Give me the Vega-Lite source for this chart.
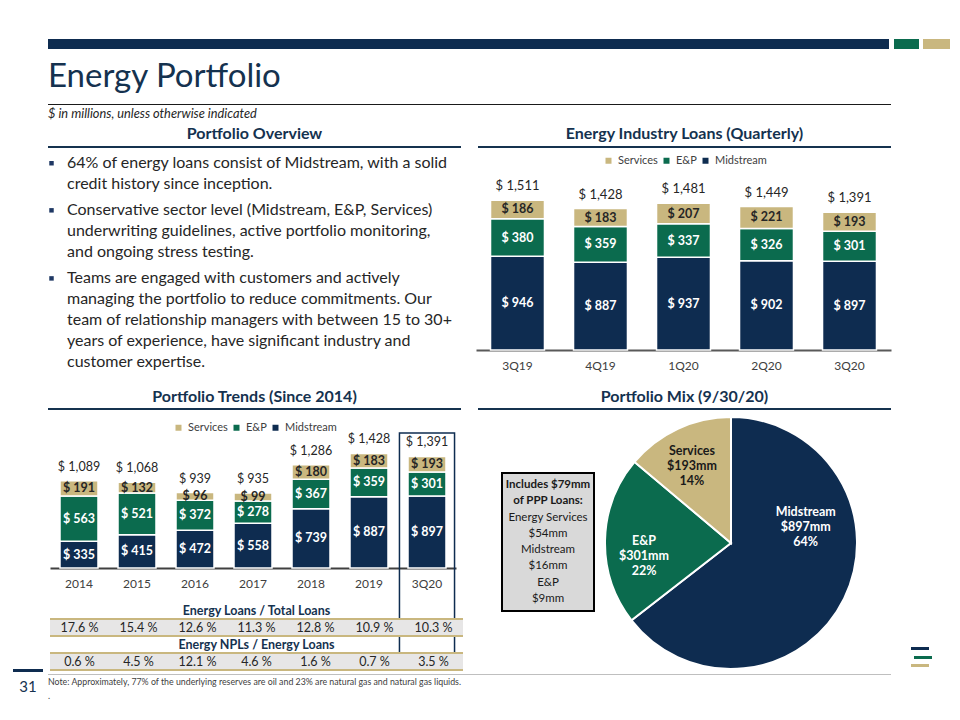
{
"$schema": "https://vega.github.io/schema/vega-lite/v6.json",
"padding": 0,
"background": "white",
"config": {"view": {"stroke": null}, "font": "Lato", "concat": {"spacing": 0}},
"bounds": "full", "spacing": 0,
"resolve": {"scale": {"color": "independent", "theta": "independent"}, "legend": {"color": "independent"}},
"vconcat": [
 {"data": {"values": []}, "mark": "rect", "width": 960, "height": 39},
 {"hconcat": [
   {"data": {"values": []}, "mark": "rect", "width": 48, "height": 10},
   {"data": {"values": []}, "mark": "rect", "width": 841, "height": 10, "view": {"fill": "#0e2c50"}},
   {"data": {"values": []}, "mark": "rect", "width": 5, "height": 10},
   {"data": {"values": []}, "mark": "rect", "width": 25, "height": 10, "view": {"fill": "#0b6b4e"}},
   {"data": {"values": []}, "mark": "rect", "width": 4, "height": 10},
   {"data": {"values": []}, "mark": "rect", "width": 27, "height": 10, "view": {"fill": "#c9b77f"}},
   {"data": {"values": []}, "mark": "rect", "width": 10, "height": 10}
 ], "spacing": 0, "bounds": "flush"},
 {"hconcat": [
   {"data": {"values": []}, "mark": "rect", "width": 48, "height": 55},
   {"width": 912, "height": 55, "data": {"values": [{"t": "Energy Portfolio"}]},
    "mark": {"type": "text", "align": "left", "baseline": "middle", "fontSize": 33, "color": "#15324f"},
    "encoding": {"text": {"field": "t"}, "x": {"datum": 0, "type": "quantitative", "scale": {"domain": [0, 1]}, "axis": null}}}
 ], "spacing": 0, "bounds": "flush"},
 {"hconcat": [
   {"data": {"values": []}, "mark": "rect", "width": 48, "height": 1},
   {"data": {"values": []}, "mark": "rect", "width": 843, "height": 1, "view": {"fill": "#1a1a1a"}},
   {"data": {"values": []}, "mark": "rect", "width": 69, "height": 1}
 ], "spacing": 0, "bounds": "flush"},
 {"hconcat": [
   {"data": {"values": []}, "mark": "rect", "width": 48, "height": 17},
   {"width": 912, "height": 17, "data": {"values": [{"t": "$ in millions, unless otherwise indicated"}]},
    "mark": {"type": "text", "align": "left", "baseline": "middle", "fontSize": 12.8, "fontStyle": "italic", "color": "#262626"},
    "encoding": {"text": {"field": "t"}, "x": {"datum": 0, "type": "quantitative", "scale": {"domain": [0, 1]}, "axis": null}}}
 ], "spacing": 0, "bounds": "flush"},
 {"hconcat": [
   {"data": {"values": []}, "mark": "rect", "width": 48, "height": 24},
   {"width": 413, "height": 24, "data": {"values": [{"t": "Portfolio Overview"}]},
    "mark": {"type": "text", "baseline": "middle", "fontSize": 16, "fontWeight": "bold", "color": "#15324f"},
    "encoding": {"text": {"field": "t"}}},
   {"data": {"values": []}, "mark": "rect", "width": 17, "height": 24},
   {"width": 413, "height": 24, "data": {"values": [{"t": "Energy Industry Loans (Quarterly)"}]},
    "mark": {"type": "text", "baseline": "middle", "fontSize": 16, "fontWeight": "bold", "color": "#15324f"},
    "encoding": {"text": {"field": "t"}}},
   {"data": {"values": []}, "mark": "rect", "width": 69, "height": 24}
 ], "spacing": 0, "bounds": "flush"},
 {"hconcat": [
   {"data": {"values": []}, "mark": "rect", "width": 48, "height": 2},
   {"data": {"values": []}, "mark": "rect", "width": 413, "height": 2, "view": {"fill": "#15324f"}},
   {"data": {"values": []}, "mark": "rect", "width": 17, "height": 2},
   {"data": {"values": []}, "mark": "rect", "width": 413, "height": 2, "view": {"fill": "#15324f"}},
   {"data": {"values": []}, "mark": "rect", "width": 69, "height": 2}
 ], "spacing": 0, "bounds": "flush"},
 {"hconcat": [
   {"data": {"values": []}, "mark": "rect", "width": 48, "height": 237},
   {"vconcat": [
     {"data": {"values": []}, "mark": "rect", "width": 413, "height": 5},
     {"hconcat": [
       {"width": 7, "height": 41, "data": {"values": [{"l": 0}]}, "mark": {"type": "square", "size": 20, "color": "#1f3864", "opacity": 1},
        "encoding": {"y": {"field": "l", "type": "ordinal", "scale": {"type": "band", "domain": [0, 1], "paddingInner": 0, "paddingOuter": 0}, "axis": null}}},
       {"data": {"values": []}, "mark": "rect", "width": 12, "height": 41},
       {"width": 394, "height": 41, "data": {"values": [
          {"l": 0, "t": "64% of energy loans consist of Midstream, with a solid"},
          {"l": 1, "t": "credit history since inception."}]},
        "mark": {"type": "text", "align": "left", "baseline": "middle", "fontSize": 16, "color": "#262626"},
        "encoding": {"text": {"field": "t"}, "x": {"datum": 0, "type": "quantitative", "scale": {"domain": [0, 1]}, "axis": null},
          "y": {"field": "l", "type": "ordinal", "scale": {"type": "band", "domain": [0, 1], "paddingInner": 0, "paddingOuter": 0}, "axis": null}}}
     ], "spacing": 0, "bounds": "flush"},
     {"data": {"values": []}, "mark": "rect", "width": 413, "height": 6},
     {"hconcat": [
       {"width": 7, "height": 62, "data": {"values": [{"l": 0}]}, "mark": {"type": "square", "size": 20, "color": "#1f3864", "opacity": 1},
        "encoding": {"y": {"field": "l", "type": "ordinal", "scale": {"type": "band", "domain": [0, 1, 2], "paddingInner": 0, "paddingOuter": 0}, "axis": null}}},
       {"data": {"values": []}, "mark": "rect", "width": 12, "height": 62},
       {"width": 394, "height": 62, "data": {"values": [
          {"l": 0, "t": "Conservative sector level (Midstream, E&P, Services)"},
          {"l": 1, "t": "underwriting guidelines, active portfolio monitoring,"},
          {"l": 2, "t": "and ongoing stress testing."}]},
        "mark": {"type": "text", "align": "left", "baseline": "middle", "fontSize": 16, "color": "#262626"},
        "encoding": {"text": {"field": "t"}, "x": {"datum": 0, "type": "quantitative", "scale": {"domain": [0, 1]}, "axis": null},
          "y": {"field": "l", "type": "ordinal", "scale": {"type": "band", "domain": [0, 1, 2], "paddingInner": 0, "paddingOuter": 0}, "axis": null}}}
     ], "spacing": 0, "bounds": "flush"},
     {"data": {"values": []}, "mark": "rect", "width": 413, "height": 6},
     {"hconcat": [
       {"width": 7, "height": 104, "data": {"values": [{"l": 0}]}, "mark": {"type": "square", "size": 20, "color": "#1f3864", "opacity": 1},
        "encoding": {"y": {"field": "l", "type": "ordinal", "scale": {"type": "band", "domain": [0, 1, 2, 3, 4], "paddingInner": 0, "paddingOuter": 0}, "axis": null}}},
       {"data": {"values": []}, "mark": "rect", "width": 12, "height": 104},
       {"width": 394, "height": 104, "data": {"values": [
          {"l": 0, "t": "Teams are engaged with customers and actively"},
          {"l": 1, "t": "managing the portfolio to reduce commitments. Our"},
          {"l": 2, "t": "team of relationship managers with between  15 to 30+"},
          {"l": 3, "t": "years of experience,  have significant industry and"},
          {"l": 4, "t": "customer expertise."}]},
        "mark": {"type": "text", "align": "left", "baseline": "middle", "fontSize": 16, "color": "#262626"},
        "encoding": {"text": {"field": "t"}, "x": {"datum": 0, "type": "quantitative", "scale": {"domain": [0, 1]}, "axis": null},
          "y": {"field": "l", "type": "ordinal", "scale": {"type": "band", "domain": [0, 1, 2, 3, 4], "paddingInner": 0, "paddingOuter": 0}, "axis": null}}}
     ], "spacing": 0, "bounds": "flush"},
     {"data": {"values": []}, "mark": "rect", "width": 413, "height": 13}
   ], "spacing": 0, "bounds": "full"},
   {"data": {"values": []}, "mark": "rect", "width": 15, "height": 237},
   {"width": 415, "height": 202,
    "data": {"values": [
      {"q": "3Q19", "seg": "Midstream", "v": 946}, {"q": "3Q19", "seg": "E&P", "v": 380}, {"q": "3Q19", "seg": "Services", "v": 186},
      {"q": "4Q19", "seg": "Midstream", "v": 887}, {"q": "4Q19", "seg": "E&P", "v": 359}, {"q": "4Q19", "seg": "Services", "v": 183},
      {"q": "1Q20", "seg": "Midstream", "v": 937}, {"q": "1Q20", "seg": "E&P", "v": 337}, {"q": "1Q20", "seg": "Services", "v": 207},
      {"q": "2Q20", "seg": "Midstream", "v": 902}, {"q": "2Q20", "seg": "E&P", "v": 326}, {"q": "2Q20", "seg": "Services", "v": 221},
      {"q": "3Q20", "seg": "Midstream", "v": 897}, {"q": "3Q20", "seg": "E&P", "v": 301}, {"q": "3Q20", "seg": "Services", "v": 193}]},
    "layer": [
      {"transform": [{"calculate": "indexof(['Midstream','E&P','Services'], datum.seg)", "as": "ord"}],
       "mark": {"type": "bar", "stroke": "white", "strokeWidth": 1.5},
       "encoding": {
         "x": {"field": "q", "type": "nominal", "scale": {"domain": ["3Q19", "4Q19", "1Q20", "2Q20", "3Q20"], "paddingInner": 0.35, "paddingOuter": 0.175},
               "axis": {"title": null, "labelAngle": 0, "ticks": false, "domainColor": "#595959", "domainWidth": 2, "labelFontSize": 12, "labelColor": "#404040", "labelPadding": 10}},
         "y": {"field": "v", "type": "quantitative", "stack": "zero", "scale": {"domain": [0, 2040], "nice": false}, "axis": null},
         "color": {"field": "seg", "type": "nominal", "scale": {"domain": ["Services", "E&P", "Midstream"], "range": ["#c9b77f", "#0b6b4e", "#0e2c50"]},
                   "legend": {"orient": "none", "legendX": 127, "legendY": 7, "direction": "horizontal", "title": null, "symbolType": "square", "symbolSize": 36, "symbolStrokeWidth": 0, "labelFontSize": 11, "labelColor": "#404040", "columnPadding": 3, "labelOffset": 4}},
         "order": {"field": "ord", "type": "quantitative"}}},
      {"transform": [{"calculate": "indexof(['Midstream','E&P','Services'], datum.seg)", "as": "ord"}, {"calculate": "'$ ' + format(datum.v, ',')", "as": "lbl"}],
       "mark": {"type": "text", "fontWeight": "bold", "fontSize": 12.5, "baseline": "middle"},
       "encoding": {
         "x": {"field": "q", "type": "nominal"},
         "y": {"field": "v", "type": "quantitative", "stack": "zero", "bandPosition": 0.5},
         "detail": {"field": "seg"},
         "order": {"field": "ord", "type": "quantitative"},
         "text": {"field": "lbl"},
         "color": {"condition": {"test": "datum.seg === 'Services'", "value": "#262626"}, "value": "#ffffff"}}},
      {"data": {"values": [{"q": "3Q19", "total": 1511}, {"q": "4Q19", "total": 1428}, {"q": "1Q20", "total": 1481}, {"q": "2Q20", "total": 1449}, {"q": "3Q20", "total": 1391}]},
       "transform": [{"calculate": "'$ ' + format(datum.total, ',')", "as": "tl"}],
       "mark": {"type": "text", "fontSize": 13, "color": "#262626", "baseline": "middle", "dy": -14},
       "encoding": {"x": {"field": "q", "type": "nominal"}, "y": {"field": "total", "type": "quantitative"}, "text": {"field": "tl"}}}
    ]},
   {"data": {"values": []}, "mark": "rect", "width": 69, "height": 237}
 ], "spacing": 0, "bounds": "full", "resolve": {"scale": {"color": "independent"}, "legend": {"color": "independent"}}},
 {"hconcat": [
   {"data": {"values": []}, "mark": "rect", "width": 48, "height": 23},
   {"width": 413, "height": 23, "data": {"values": [{"t": "Portfolio Trends (Since 2014)"}]},
    "mark": {"type": "text", "baseline": "middle", "fontSize": 16, "fontWeight": "bold", "color": "#15324f"},
    "encoding": {"text": {"field": "t"}}},
   {"data": {"values": []}, "mark": "rect", "width": 17, "height": 23},
   {"width": 413, "height": 23, "data": {"values": [{"t": "Portfolio Mix (9/30/20)"}]},
    "mark": {"type": "text", "baseline": "middle", "fontSize": 16, "fontWeight": "bold", "color": "#15324f"},
    "encoding": {"text": {"field": "t"}}},
   {"data": {"values": []}, "mark": "rect", "width": 69, "height": 23}
 ], "spacing": 0, "bounds": "flush"},
 {"hconcat": [
   {"data": {"values": []}, "mark": "rect", "width": 48, "height": 2},
   {"data": {"values": []}, "mark": "rect", "width": 413, "height": 2, "view": {"fill": "#15324f"}},
   {"data": {"values": []}, "mark": "rect", "width": 17, "height": 2},
   {"data": {"values": []}, "mark": "rect", "width": 413, "height": 2, "view": {"fill": "#15324f"}},
   {"data": {"values": []}, "mark": "rect", "width": 69, "height": 2}
 ], "spacing": 0, "bounds": "flush"},
 {"hconcat": [
   {"vconcat": [
     {"data": {"values": []}, "mark": "rect", "width": 49, "height": 259},
     {"hconcat": [
       {"data": {"values": []}, "mark": "rect", "width": 13, "height": 3},
       {"data": {"values": []}, "mark": "rect", "width": 30, "height": 3, "view": {"fill": "#0e2c50"}},
       {"data": {"values": []}, "mark": "rect", "width": 6, "height": 3}], "spacing": 0, "bounds": "flush"}
   ], "spacing": 0, "bounds": "full"},
   {"vconcat": [
     {"width": 406, "height": 158,
      "data": {"values": [
        {"yr": "2014", "seg": "Midstream", "v": 335}, {"yr": "2014", "seg": "E&P", "v": 563}, {"yr": "2014", "seg": "Services", "v": 191},
        {"yr": "2015", "seg": "Midstream", "v": 415}, {"yr": "2015", "seg": "E&P", "v": 521}, {"yr": "2015", "seg": "Services", "v": 132},
        {"yr": "2016", "seg": "Midstream", "v": 472}, {"yr": "2016", "seg": "E&P", "v": 372}, {"yr": "2016", "seg": "Services", "v": 96},
        {"yr": "2017", "seg": "Midstream", "v": 558}, {"yr": "2017", "seg": "E&P", "v": 278}, {"yr": "2017", "seg": "Services", "v": 99},
        {"yr": "2018", "seg": "Midstream", "v": 739}, {"yr": "2018", "seg": "E&P", "v": 367}, {"yr": "2018", "seg": "Services", "v": 180},
        {"yr": "2019", "seg": "Midstream", "v": 887}, {"yr": "2019", "seg": "E&P", "v": 359}, {"yr": "2019", "seg": "Services", "v": 183},
        {"yr": "3Q20", "seg": "Midstream", "v": 897}, {"yr": "3Q20", "seg": "E&P", "v": 301}, {"yr": "3Q20", "seg": "Services", "v": 193}]},
      "layer": [
        {"transform": [{"calculate": "indexof(['Midstream','E&P','Services'], datum.seg)", "as": "ord"}],
         "mark": {"type": "bar", "stroke": "white", "strokeWidth": 1.5},
         "encoding": {
           "x": {"field": "yr", "type": "nominal", "scale": {"domain": ["2014", "2015", "2016", "2017", "2018", "2019", "3Q20"], "paddingInner": 0.345, "paddingOuter": 0.1725},
                 "axis": {"title": null, "labelAngle": 0, "ticks": false, "domainColor": "#404040", "domainWidth": 2, "labelFontSize": 12, "labelColor": "#404040", "labelPadding": 10}},
           "y": {"field": "v", "type": "quantitative", "stack": "zero", "scale": {"domain": [0, 1970], "nice": false}, "axis": null},
           "color": {"field": "seg", "type": "nominal", "scale": {"domain": ["Services", "E&P", "Midstream"], "range": ["#c9b77f", "#0b6b4e", "#0e2c50"]},
                     "legend": {"orient": "none", "legendX": 123, "legendY": 12, "direction": "horizontal", "title": null, "symbolType": "square", "symbolSize": 36, "symbolStrokeWidth": 0, "labelFontSize": 11, "labelColor": "#404040", "columnPadding": 3, "labelOffset": 4}},
           "order": {"field": "ord", "type": "quantitative"}}},
        {"transform": [{"calculate": "indexof(['Midstream','E&P','Services'], datum.seg)", "as": "ord"}, {"calculate": "'$ ' + format(datum.v, ',')", "as": "lbl"}],
         "mark": {"type": "text", "fontWeight": "bold", "fontSize": 12.5, "baseline": "middle"},
         "encoding": {
           "x": {"field": "yr", "type": "nominal"},
           "y": {"field": "v", "type": "quantitative", "stack": "zero", "bandPosition": 0.5},
           "detail": {"field": "seg"},
           "order": {"field": "ord", "type": "quantitative"},
           "text": {"field": "lbl"},
           "color": {"condition": {"test": "datum.seg === 'Services'", "value": "#262626"}, "value": "#ffffff"}}},
        {"data": {"values": [{"yr": "2014", "total": 1089}, {"yr": "2015", "total": 1068}, {"yr": "2016", "total": 939}, {"yr": "2017", "total": 935}, {"yr": "2018", "total": 1286}, {"yr": "2019", "total": 1428}, {"yr": "3Q20", "total": 1391}]},
         "transform": [{"calculate": "'$ ' + format(datum.total, ',')", "as": "tl"}],
         "mark": {"type": "text", "fontSize": 12.5, "color": "#262626", "baseline": "middle", "dy": -14},
         "encoding": {"x": {"field": "yr", "type": "nominal"}, "y": {"field": "total", "type": "quantitative"}, "text": {"field": "tl"}}},
        {"data": {"values": [{"yr": "3Q20"}]},
         "mark": {"type": "bar", "filled": false, "stroke": "#0e2c50", "strokeWidth": 1.5, "width": {"band": 1.45}},
         "encoding": {"x": {"field": "yr", "type": "nominal"}, "y": {"datum": 1683, "type": "quantitative"}, "y2": {"datum": -1272}}}
      ]},
     {"data": {"values": []}, "mark": "rect", "width": 413, "height": 34},
     {"width": 413, "height": 68,
      "layer": [
        {"data": {"values": [{"row": "v1"}, {"row": "v2"}]},
         "mark": {"type": "rect", "color": "#e7e6e6"},
         "encoding": {"y": {"field": "row", "type": "nominal", "scale": {"domain": ["h1", "v1", "h2", "v2"], "paddingInner": 0, "paddingOuter": 0}, "axis": null}}},
        {"data": {"values": [{"row": "v1"}, {"row": "v2"}]},
         "mark": {"type": "rule", "color": "#c9b77f", "strokeWidth": 2},
         "encoding": {"y": {"field": "row", "type": "nominal", "bandPosition": 0}}},
        {"data": {"values": [{"row": "v1"}, {"row": "v2"}]},
         "mark": {"type": "rule", "color": "#c9b77f", "strokeWidth": 2},
         "encoding": {"y": {"field": "row", "type": "nominal", "bandPosition": 1}}},
        {"data": {"values": [{"row": "h1", "t": "Energy Loans / Total Loans"}, {"row": "h2", "t": "Energy NPLs / Energy Loans"}]},
         "mark": {"type": "text", "fontWeight": "bold", "fontSize": 12.5, "color": "#15324f", "baseline": "middle"},
         "encoding": {"y": {"field": "row", "type": "nominal"}, "text": {"field": "t"}}},
        {"data": {"values": [
          {"yr": "2014", "row": "v1", "p": 17.6}, {"yr": "2015", "row": "v1", "p": 15.4}, {"yr": "2016", "row": "v1", "p": 12.6}, {"yr": "2017", "row": "v1", "p": 11.3}, {"yr": "2018", "row": "v1", "p": 12.8}, {"yr": "2019", "row": "v1", "p": 10.9}, {"yr": "3Q20", "row": "v1", "p": 10.3},
          {"yr": "2014", "row": "v2", "p": 0.6}, {"yr": "2015", "row": "v2", "p": 4.5}, {"yr": "2016", "row": "v2", "p": 12.1}, {"yr": "2017", "row": "v2", "p": 4.6}, {"yr": "2018", "row": "v2", "p": 1.6}, {"yr": "2019", "row": "v2", "p": 0.7}, {"yr": "3Q20", "row": "v2", "p": 3.5}]},
         "transform": [{"calculate": "format(datum.p, '.1f') + ' %'", "as": "pt"}],
         "mark": {"type": "text", "fontSize": 12.5, "color": "#262626", "baseline": "middle"},
         "encoding": {"x": {"field": "yr", "type": "nominal", "scale": {"domain": ["2014", "2015", "2016", "2017", "2018", "2019", "3Q20"], "paddingInner": 0, "paddingOuter": 0}, "axis": null},
                      "y": {"field": "row", "type": "nominal"}, "text": {"field": "pt"}}}
      ]}
   ], "spacing": 0, "bounds": "flush", "resolve": {"scale": {"color": "independent"}, "legend": {"color": "independent"}}},
   {"data": {"values": []}, "mark": "rect", "width": 37, "height": 260},
   {"vconcat": [
     {"data": {"values": []}, "mark": "rect", "width": 92, "height": 63},
     {"width": 92, "height": 138, "view": {"fill": "#d9d9d9", "stroke": "#000000", "strokeWidth": 2},
      "layer": [
        {"data": {"values": [{"l": 0, "t": "Includes $79mm"}, {"l": 1, "t": "of PPP Loans:"}]},
         "mark": {"type": "text", "fontWeight": "bold", "fontSize": 11.5, "color": "#1a1a1a", "baseline": "middle"},
         "encoding": {"y": {"field": "l", "type": "ordinal", "scale": {"type": "band", "domain": [0, 1, 2, 3, 4, 5, 6, 7], "paddingInner": 0, "paddingOuter": 0.24}, "axis": null}, "text": {"field": "t"}}},
        {"data": {"values": [{"l": 2, "t": "Energy Services"}, {"l": 3, "t": "$54mm"}, {"l": 4, "t": "Midstream"}, {"l": 5, "t": "$16mm"}, {"l": 6, "t": "E&P"}, {"l": 7, "t": "$9mm"}]},
         "mark": {"type": "text", "fontSize": 11.5, "color": "#1a1a1a", "baseline": "middle"},
         "encoding": {"y": {"field": "l", "type": "ordinal"}, "text": {"field": "t"}}}
      ]}
   ], "spacing": 0, "bounds": "flush"},
   {"data": {"values": []}, "mark": "rect", "width": 6, "height": 260},
   {"vconcat": [
     {"data": {"values": []}, "mark": "rect", "width": 254, "height": 6},
     {"width": 254, "height": 254,
      "data": {"values": [
        {"seg": "Midstream", "v": 897, "lbl": "Midstream\n$897mm\n64%"},
        {"seg": "E&P", "v": 301, "lbl": "E&P\n$301mm\n22%"},
        {"seg": "Services", "v": 193, "lbl": "Services\n$193mm\n14%"}]},
      "transform": [{"calculate": "indexof(['Midstream','E&P','Services'], datum.seg)", "as": "ord"}],
      "encoding": {"theta": {"field": "v", "type": "quantitative", "stack": true}, "order": {"field": "ord", "type": "quantitative"}},
      "layer": [
        {"mark": {"type": "arc", "outerRadius": 126, "stroke": "white", "strokeWidth": 2},
         "encoding": {"color": {"field": "seg", "type": "nominal", "scale": {"domain": ["Services", "E&P", "Midstream"], "range": ["#c9b77f", "#0b6b4e", "#0e2c50"]}, "legend": null}}},
        {"mark": {"type": "text", "radius": 81, "fontWeight": "bold", "fontSize": 12.5, "lineBreak": "\n", "lineHeight": 15, "color": "#ffffff", "baseline": "middle"},
         "encoding": {"theta": {"field": "v", "type": "quantitative", "stack": true, "bandPosition": 0.29}, "detail": {"field": "seg"},
                      "text": {"condition": {"test": "datum.seg === 'Midstream'", "field": "lbl"}, "value": ""}}},
        {"mark": {"type": "text", "radius": 87, "fontWeight": "bold", "fontSize": 12.5, "lineBreak": "\n", "lineHeight": 15, "color": "#ffffff", "baseline": "middle"},
         "encoding": {"theta": {"field": "v", "type": "quantitative", "stack": true, "bandPosition": 0.5}, "detail": {"field": "seg"},
                      "text": {"condition": {"test": "datum.seg === 'E&P'", "field": "lbl"}, "value": ""}}},
        {"mark": {"type": "text", "radius": 100, "fontWeight": "bold", "fontSize": 12.5, "lineBreak": "\n", "lineHeight": 15, "color": "#1a1a1a", "baseline": "middle"},
         "encoding": {"theta": {"field": "v", "type": "quantitative", "stack": true, "bandPosition": 0.54}, "detail": {"field": "seg"},
                      "text": {"condition": {"test": "datum.seg === 'Services'", "field": "lbl"}, "value": ""}}}
      ]}
   ], "spacing": 0, "bounds": "flush"},
   {"data": {"values": []}, "mark": "rect", "width": 50, "height": 260},
   {"vconcat": [
     {"data": {"values": []}, "mark": "rect", "width": 21, "height": 237},
     {"hconcat": [
       {"data": {"values": []}, "mark": "rect", "width": 18, "height": 3, "view": {"fill": "#0e2c50"}},
       {"data": {"values": []}, "mark": "rect", "width": 3, "height": 3}], "spacing": 0, "bounds": "flush"},
     {"data": {"values": []}, "mark": "rect", "width": 21, "height": 6},
     {"hconcat": [
       {"data": {"values": []}, "mark": "rect", "width": 3, "height": 3},
       {"data": {"values": []}, "mark": "rect", "width": 18, "height": 3, "view": {"fill": "#0b6b4e"}}], "spacing": 0, "bounds": "flush"},
     {"data": {"values": []}, "mark": "rect", "width": 21, "height": 5},
     {"hconcat": [
       {"data": {"values": []}, "mark": "rect", "width": 18, "height": 3, "view": {"fill": "#c9b77f"}},
       {"data": {"values": []}, "mark": "rect", "width": 3, "height": 3}], "spacing": 0, "bounds": "flush"}
   ], "spacing": 0, "bounds": "full"},
   {"data": {"values": []}, "mark": "rect", "width": 17, "height": 260}
 ], "spacing": 0, "bounds": "full", "resolve": {"scale": {"color": "independent", "theta": "independent"}, "legend": {"color": "independent"}}},
 {"hconcat": [
   {"hconcat": [
     {"data": {"values": []}, "mark": "rect", "width": 8, "height": 28},
     {"width": 40, "height": 28, "data": {"values": [{"t": "31"}]},
      "mark": {"type": "text", "fontSize": 15, "color": "#15324f", "baseline": "middle"},
      "encoding": {"text": {"field": "t"}}}], "spacing": 0, "bounds": "flush"},
   {"vconcat": [
     {"data": {"values": []}, "mark": "rect", "width": 843, "height": 1},
     {"data": {"values": []}, "mark": "rect", "width": 843, "height": 1, "view": {"fill": "#bfbfbf"}},
     {"width": 843, "height": 28, "data": {"values": [
        {"l": 0, "t": "Note: Approximately,  77% of the underlying reserves are oil and 23% are natural gas and natural gas liquids."},
        {"l": 1, "t": "."}]},
      "mark": {"type": "text", "align": "left", "baseline": "middle", "fontSize": 8.8, "color": "#404040"},
      "encoding": {"text": {"field": "t"}, "x": {"datum": 0, "type": "quantitative", "scale": {"domain": [0, 1]}, "axis": null},
        "y": {"field": "l", "type": "ordinal", "scale": {"type": "band", "domain": [0, 1], "paddingInner": 0, "paddingOuter": 0}, "axis": null}}}
   ], "spacing": 0, "bounds": "flush"},
   {"data": {"values": []}, "mark": "rect", "width": 69, "height": 30}
 ], "spacing": 0, "bounds": "full"},
 {"data": {"values": []}, "mark": "rect", "width": 960, "height": 16}
]
}
